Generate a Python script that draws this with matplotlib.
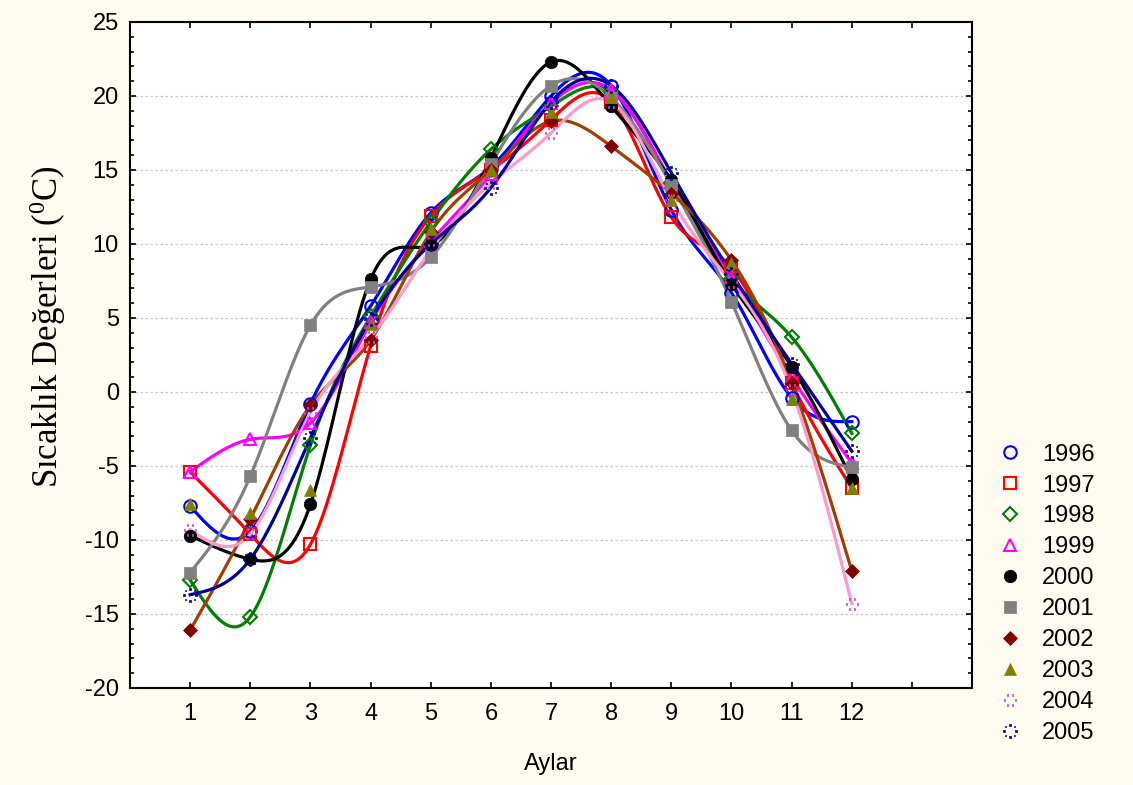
import matplotlib
matplotlib.use("Agg")
import matplotlib.pyplot as plt
import numpy as np
from matplotlib.path import Path
from matplotlib.ticker import MultipleLocator, FixedLocator

# monthly temperature values
months = [1, 2, 3, 4, 5, 6, 7, 8, 9, 10, 11, 12]
years = ["1996", "1997", "1998", "1999", "2000", "2001", "2002", "2003", "2004", "2005"]
t1996 = [-7.7, -9.4, -0.8, 5.8, 12.1, 15.2, 20.0, 20.7, 12.3, 6.7, -0.4, -2.0]
t1997 = [-5.4, -9.6, -10.3, 3.1, 11.9, 15.0, 18.4, 19.6, 11.8, 8.4, 0.6, -6.5]
t1998 = [-12.7, -15.2, -3.6, 5.1, 11.5, 16.4, 19.3, 20.3, 14.1, 7.6, 3.7, -2.8]
t1999 = [-5.4, -3.2, -2.1, 4.7, 10.2, 14.7, 19.5, 20.4, 14.2, 7.7, 1.0, -4.8]
t2000 = [-9.7, -11.3, -7.6, 7.6, 9.9, 15.8, 22.3, 19.3, 14.3, 7.3, 1.7, -5.9]
t2001 = [-12.2, -5.7, 4.5, 7.1, 9.1, 15.4, 20.7, 19.9, 14.0, 6.1, -2.6, -5.1]
t2002 = [-16.1, -8.6, -0.9, 3.5, 10.8, 15.0, 18.3, 16.6, 13.4, 8.9, 0.6, -12.1]
t2003 = [-7.6, -8.2, -6.6, 4.6, 11.0, 15.0, 18.9, 20.0, 13.0, 8.7, -0.5, -6.5]
t2004 = [-9.3, -9.6, -1.4, 3.7, 9.6, 14.1, 17.5, 19.6, 13.0, 7.4, 0.1, -14.3]
t2005 = [-13.7, -11.3, -3.1, 4.9, 10.0, 13.8, 19.6, 20.7, 14.8, 8.0, 1.9, -4.0]
series = [t1996, t1997, t1998, t1999, t2000, t2001, t2002, t2003, t2004, t2005]

line_colors = ["#0000FF", "#FF0000", "#008000", "#FF00FF", "#000000", "#808080",
               "#A04000", None, "#FF99CC", "#000099"]
mark_colors = ["#0000FF", "#FF0000", "#008000", "#FF00FF", "#000000", "#808080",
               "#800000", "#808000", "#C050C0", "#000099"]


def dotted_ring(n):
    # marker made of small dots placed on a circle
    parts = []
    for a in np.linspace(0, 2 * np.pi, n, endpoint=False):
        cx, cy = np.cos(a), np.sin(a)
        s = 0.12
        parts.append(Path([(cx - s, cy - s), (cx + s, cy - s), (cx + s, cy + s),
                           (cx - s, cy + s), (cx - s, cy - s)], closed=True))
    return Path.make_compound_path(*parts)


markers = ["o", "s", "D", "^", "o", "s", "D", "^", dotted_ring(6), dotted_ring(8)]
filled = [False, False, False, False, True, True, True, True, True, True]
msizes = [9, 9, 7, 9, 9, 9, 7, 9, 9, 10]


def natural_spline(x, y, xs):
    x = np.asarray(x, float)
    y = np.asarray(y, float)
    n = len(x)
    h = np.diff(x)
    A = np.zeros((n, n))
    b = np.zeros(n)
    A[0, 0] = A[-1, -1] = 1
    for i in range(1, n - 1):
        A[i, i - 1] = h[i - 1]
        A[i, i] = 2 * (h[i - 1] + h[i])
        A[i, i + 1] = h[i]
        b[i] = 6 * ((y[i + 1] - y[i]) / h[i] - (y[i] - y[i - 1]) / h[i - 1])
    M = np.linalg.solve(A, b)
    idx = np.clip(np.searchsorted(x, xs) - 1, 0, n - 2)
    x0, x1 = x[idx], x[idx + 1]
    hh = x1 - x0
    return (M[idx] * (x1 - xs) ** 3 / (6 * hh) + M[idx + 1] * (xs - x0) ** 3 / (6 * hh)
            + (y[idx] / hh - M[idx] * hh / 6) * (x1 - xs)
            + (y[idx + 1] / hh - M[idx + 1] * hh / 6) * (xs - x0))


plt.rcParams["font.family"] = ["Liberation Sans", "DejaVu Sans"]
plt.rcParams["axes.unicode_minus"] = False
fig = plt.figure(figsize=(11.33, 7.85), dpi=100, facecolor="#FFFBF0")
ax = fig.add_axes([0.1147, 0.1236, 0.7433, 0.8484])
ax.set_facecolor("white")

xs = np.linspace(1, 12, 400)
for vals, lc in zip(series, line_colors):
    if lc is None:
        continue
    ax.plot(xs, natural_spline(months, vals, xs), color=lc, lw=2.3, zorder=2)

handles = []
for vals, yr, mk, mc, fl, ms in zip(series, years, markers, mark_colors, filled, msizes):
    h, = ax.plot(months, vals, ls="none", marker=mk, markersize=ms,
                 markerfacecolor=mc if fl else "none", markeredgecolor=mc,
                 markeredgewidth=1.5 if not fl else 0.5, label=yr, zorder=3)
    handles.append(h)

ax.set_xlim(0, 14)
ax.set_ylim(-20, 25)
ax.xaxis.set_major_locator(FixedLocator(months + [13]))
ax.set_xticklabels([str(m) for m in months] + [""])
ax.xaxis.set_minor_locator(FixedLocator([2, 4, 6, 8, 10, 12]))
ax.yaxis.set_major_locator(MultipleLocator(5))
ax.yaxis.set_minor_locator(MultipleLocator(1))
ax.grid(which="minor", axis="x", color="#C8C8C8", ls=(0, (2, 2)), lw=0.9)
ax.grid(which="major", axis="y", color="#C8C8C8", ls=(0, (2, 2)), lw=0.9)
ax.tick_params(which="both", direction="in", top=True, right=True, labelsize=17)
ax.tick_params(which="major", length=4, width=1.2)
ax.tick_params(which="minor", length=3, width=1.2)
ax.tick_params(axis="x", pad=11)
ax.tick_params(axis="y", pad=8)
for sp in ax.spines.values():
    sp.set_linewidth(1.5)

ax.set_xlabel("Aylar", fontsize=17)
ax.xaxis.set_label_coords(0.5, -0.098)
ax.set_ylabel("Sıcaklık Değerleri ($\\mathregular{^0}$C)", fontsize=25,
              family="Liberation Serif")
ax.yaxis.set_label_coords(-0.074, 0.542)

fig.legend(handles=handles, loc="upper left", bbox_to_anchor=(0.873, 0.447),
           frameon=False, fontsize=17, handlelength=1.0, handletextpad=0.85,
           labelspacing=0.38, borderaxespad=0)

fig.savefig("out.png", dpi=100, facecolor=fig.get_facecolor())
